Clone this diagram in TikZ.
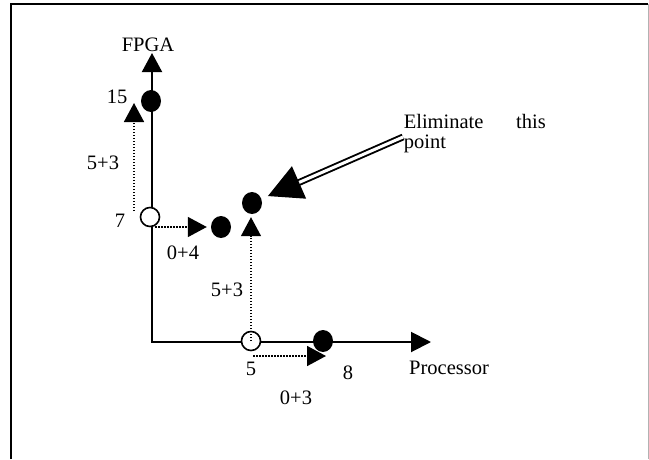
\documentclass[tikz,border=0pt]{standalone}
\usepackage{fontspec}
\setmainfont{Liberation Serif}
\usetikzlibrary{arrows.meta,shapes.geometric}
\tikzset{
  ax/.style={line width=2pt},
  dotline/.style={line width=1.6pt, dash pattern=on 1.5pt off 1.5pt, -{Triangle[length=19pt,width=20pt]}},
  fdot/.style={ellipse, fill=black, minimum width=20pt, minimum height=22pt, inner sep=0pt},
  odot/.style={circle, draw=black, line width=1.6pt, fill=white, minimum size=19pt, inner sep=0pt},
  lbl/.style={inner sep=0pt, font=\fontsize{20.5}{20}\selectfont},
  bigarrow/.style={double, double distance=3pt, line width=1.9pt, -{Triangle[length=34pt,width=35pt]}},
}
\begin{document}
\begin{tikzpicture}[x=1pt,y=-1pt]
\useasboundingbox (0,0) rectangle (649,459);
% frame
\coordinate (fbl) at (11,459);
\coordinate (ftl) at (11,4);
\coordinate (ftr) at (648,4);
\coordinate (fbr) at (648,459);
\draw[line width=2.2pt] (fbl) -- (ftl) -- (ftr);
\draw[black!30, line width=1pt] (ftr) -- (fbr);
% axes
\coordinate (o) at (152,342);
\coordinate (ytip) at (152,53);
\coordinate (xtip) at (431,342);
\draw[ax, {Triangle[length=19pt,width=20pt]}-{Triangle[length=20pt,width=20pt]}] (ytip) -- (o) -- (xtip);
% points
\node[fdot] (p15) at (151,101) {};
\node[odot] (p7) at (150,217) {};
\node[odot] (p5) at (251,341) {};
\node[fdot] (p8) at (323,341) {};
\node[fdot] (p04) at (221,227) {};
\node[fdot] (p53) at (252,203) {};
% dotted arrows
\coordinate (a1s) at (134,211);
\coordinate (a1e) at (134,103);
\draw[dotline] (a1s) -- (a1e);
\coordinate (h1s) at (155,227);
\draw[dotline, shorten >=4pt] (h1s) -- (p04.west);
\draw[dotline, shorten >=3pt] (p5.center) -- (p5.center |- p53.south);
\coordinate (h2s) at (253,356);
\coordinate (h2e) at (326,356);
\draw[dotline] (h2s) -- (h2e);
% labels
\node[lbl] (lfpga) at (148,45) {FPGA};
\node[lbl] (l15) at (117,97) {15};
\node[lbl] (l53a) at (103,163) {5+3};
\node[lbl] (l7) at (120,221) {7};
\node[lbl] (l04) at (183,253) {0+4};
\node[lbl] (l53b) at (227,290) {5+3};
\node[lbl] (l5) at (251,369) {5};
\node[lbl] (l8) at (348,373) {8};
\node[lbl] (l03) at (296,398) {0+3};
\node[lbl, anchor=west] (lproc) at (409,368) {Processor};
\node[lbl, anchor=north west, text width=142pt] (elim) at (403.6,114.5) {Eliminate\hfill this\\point};
% big arrow
\coordinate (bs) at (403,137);
\draw[bigarrow, shorten >=7pt] (bs) -- (p53);
\end{tikzpicture}
\end{document}
